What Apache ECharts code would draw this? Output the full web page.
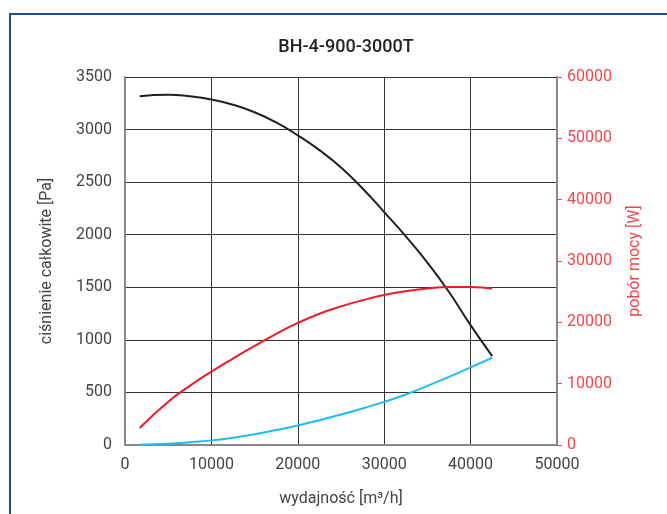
<!DOCTYPE html>
<html><head><meta charset="utf-8">
<script src="https://cdn.jsdelivr.net/npm/echarts@6/dist/echarts.min.js"></script>
<style>
html,body{margin:0;padding:0;background:#fff;overflow:hidden;}
#frame{position:absolute;left:9px;top:13px;width:700px;height:600px;border:2px solid #1f4f8f;box-sizing:border-box;}
#chart{position:absolute;left:0;top:0;width:667px;height:514px;}
</style></head>
<body>
<div id="frame"></div>
<div id="chart"></div>
<script>
const title = "BH-4-900-3000T";
const flow = [1700, 5000, 7500, 10000, 12500, 15000, 17500, 20000, 22500, 25000, 27500, 30000, 32500, 35000, 37500, 40000, 42500];
const pressureVals = [3318, 3332, 3316, 3285, 3236, 3165, 3068, 2945, 2805, 2640, 2440, 2215, 1985, 1735, 1455, 1140, 845];
const powerVals = [2770, 7050, 9650, 11950, 14100, 16150, 18100, 19900, 21400, 22600, 23600, 24450, 25050, 25500, 25750, 25750, 25500];
const systemVals = [3, 12, 26, 44, 70, 102, 142, 186, 236, 290, 348, 410, 480, 562, 648, 738, 830];

const zip = (a, b) => a.map((v, i) => [v, b[i]]);
const FONT = 'Roboto';
const plain = v => String(v);
const chart = echarts.init(document.getElementById('chart'), null, {renderer: 'canvas'});
chart.setOption({
  animation: false,
  backgroundColor: 'transparent',
  title: {text: title, left: 341, top: 33, textAlign: 'center',
    textStyle: {fontFamily: FONT, fontSize: 18, fontWeight: 500, color: '#222'}},
  grid: {left: 125, right: 110, top: 77, bottom: 69},
  xAxis: {
    type: 'value', min: 0, max: 50000, interval: 10000,
    name: 'wydajność [m³/h]', nameLocation: 'middle', nameGap: 46,
    nameTextStyle: {fontFamily: FONT, fontSize: 16, color: '#444'},
    axisLine: {show: true, lineStyle: {color: '#888', width: 2}},
    axisTick: {show: false},
    axisLabel: {fontFamily: FONT, fontSize: 16, color: '#444', margin: 12, formatter: plain},
    splitLine: {show: true, lineStyle: {color: '#333', width: 1}}
  },
  yAxis: [{
    type: 'value', min: 0, max: 3500, interval: 500, position: 'left',
    name: 'ciśnienie całkowite [Pa]', nameLocation: 'middle', nameGap: 70,
    nameTextStyle: {fontFamily: FONT, fontSize: 16, color: '#444'},
    axisLine: {show: true, lineStyle: {color: '#888', width: 2}},
    axisTick: {show: false},
    axisLabel: {fontFamily: FONT, fontSize: 16, color: '#444', margin: 13, formatter: plain},
    splitLine: {show: true, lineStyle: {color: '#333', width: 1}}
  }, {
    type: 'value', min: 0, max: 60000, interval: 10000, position: 'right',
    name: 'pobór mocy [W]', nameLocation: 'middle', nameGap: 70,
    nameTextStyle: {fontFamily: FONT, fontSize: 16, color: '#f0474d'},
    axisLine: {show: true, lineStyle: {color: '#888', width: 2}},
    axisTick: {show: true, length: 5, lineStyle: {color: '#f0474d', width: 1}},
    axisLabel: {fontFamily: FONT, fontSize: 16, color: '#f0474d', margin: 10, formatter: plain},
    splitLine: {show: false}
  }],
  series: [{
    type: 'line', yAxisIndex: 0, data: zip(flow, pressureVals),
    smooth: 0.5, showSymbol: false,
    lineStyle: {color: '#231f20', width: 2}
  }, {
    type: 'line', yAxisIndex: 1, data: zip(flow, powerVals),
    smooth: 0.5, showSymbol: false,
    lineStyle: {color: '#ec1c24', width: 2}
  }, {
    type: 'line', yAxisIndex: 0, data: zip(flow, systemVals),
    smooth: 0.5, showSymbol: false,
    lineStyle: {color: '#1fbcef', width: 2}
  }]
});
</script>
</body></html>
